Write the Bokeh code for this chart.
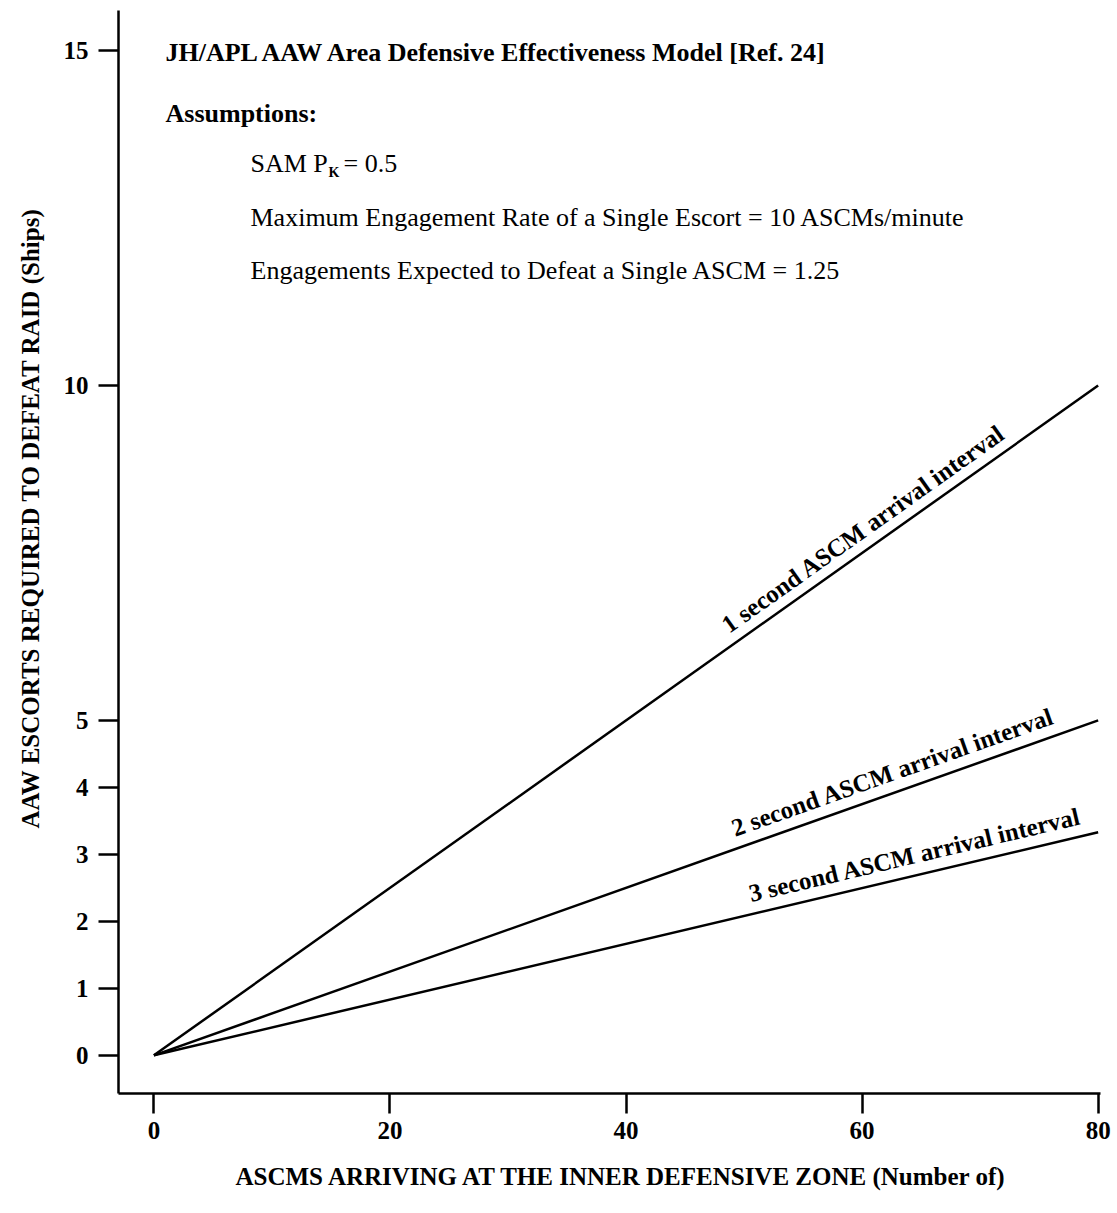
import math
from bokeh.plotting import figure
from bokeh.models import Label, FixedTicker, Range1d, Title
from bokeh.embed import file_html
from bokeh.resources import INLINE

# ASCM raid size and escorts required for each arrival interval
ascms = [0, 80]
escorts_1s = [0, 10]
escorts_2s = [0, 5]
escorts_3s = [0, 3.33]
series_names = [
    "1 second ASCM arrival interval",
    "2 second ASCM arrival interval",
    "3 second ASCM arrival interval",
]
x_ticks = [0, 20, 40, 60, 80]
y_ticks = [0, 1, 2, 3, 4, 5, 10, 15]

title_text = "JH/APL AAW Area Defensive Effectiveness Model [Ref. 24]"
assumption_lines = [
    "Maximum Engagement Rate of a Single Escort = 10 ASCMs/minute",
    "Engagements Expected to Defeat a Single ASCM = 1.25",
]
x_title = "ASCMS ARRIVING AT THE INNER DEFENSIVE ZONE (Number of)"
y_title = "AAW ESCORTS REQUIRED TO DEFEAT RAID (Ships)"

SERIF = "Liberation Serif"
W, H = 1117, 1213
BL, BR, BT, BB = 118, 17, 10, 120
X0, X1 = -3.0, 80.2
Y0, Y1 = -0.57, 15.6

p = figure(width=W, height=H, output_backend="svg", toolbar_location=None,
           x_range=Range1d(X0, X1), y_range=Range1d(Y0, Y1),
           min_border_left=BL, min_border_right=BR,
           min_border_top=BT, min_border_bottom=BB)
p.outline_line_color = None
p.grid.visible = False
p.background_fill_color = "white"
p.border_fill_color = "white"

for ax in (p.xaxis[0], p.yaxis[0]):
    ax.axis_line_width = 2.5
    ax.axis_line_color = "black"
    ax.major_tick_line_width = 2.5
    ax.major_tick_line_color = "black"
    ax.major_tick_out = 20
    ax.major_tick_in = 0
    ax.minor_tick_out = 0
    ax.minor_tick_in = 0
    ax.major_label_text_font = SERIF
    ax.major_label_text_font_size = "25px"
    ax.major_label_text_font_style = "bold"
    ax.major_label_text_color = "black"

p.xaxis.ticker = FixedTicker(ticks=x_ticks)
p.yaxis.ticker = FixedTicker(ticks=y_ticks)
p.xaxis.major_label_standoff = 8
p.yaxis.major_label_standoff = 10

px_per_x = (W - BL - BR) / (X1 - X0)
px_per_y = (H - BT - BB) / (Y1 - Y0)

def data_x(px):
    return X0 + (px - BL) / px_per_x

def data_y(py):
    return Y1 - (py - BT) / px_per_y

# axis titles, placed in the side panels outside the axes
p.add_layout(Title(text=x_title, text_font=SERIF, text_font_size="25px",
                   text_font_style="bold", text_color="black",
                   align="left", offset=117, standoff=38,
                   vertical_align="bottom"), "below")
p.add_layout(Title(text=y_title, text_font=SERIF, text_font_size="25px",
                   text_font_style="bold", text_color="black",
                   align="left", offset=265, standoff=30,
                   vertical_align="top"), "left")

# the three escort lines
for ys in (escorts_1s, escorts_2s, escorts_3s):
    p.line(ascms, ys, line_color="black", line_width=2.5)

# text rotated to follow each line on screen
label_starts = [49.0, 49.4, 50.7]
for name, ys, xs in zip(series_names, (escorts_1s, escorts_2s, escorts_3s), label_starts):
    slope = (ys[1] - ys[0]) / (ascms[1] - ascms[0])
    ang = math.degrees(math.atan(slope * px_per_y / px_per_x))
    p.add_layout(Label(x=xs, y=ys[0] + slope * xs, text=name, angle=ang, angle_units="deg",
                       text_font=SERIF, text_font_size="25px", text_font_style="bold",
                       text_color="black", text_align="left", text_baseline="bottom",
                       y_offset=7))

# model header and assumptions
FS = "26px"
p.add_layout(Label(x=data_x(165), y=data_y(52), text=title_text, text_font=SERIF,
                   text_font_size=FS, text_font_style="bold", text_color="black",
                   text_baseline="middle"))
p.add_layout(Label(x=data_x(165), y=data_y(113), text="Assumptions:", text_font=SERIF,
                   text_font_size=FS, text_font_style="bold", text_color="black",
                   text_baseline="middle"))
p.add_layout(Label(x=data_x(250), y=data_y(163), text="SAM P", text_font=SERIF,
                   text_font_size=FS, text_color="black", text_baseline="middle"))
p.add_layout(Label(x=data_x(328), y=data_y(172), text="K", text_font=SERIF,
                   text_font_size="14px", text_font_style="bold", text_color="black",
                   text_baseline="middle"))
p.add_layout(Label(x=data_x(343), y=data_y(163), text="= 0.5", text_font=SERIF,
                   text_font_size=FS, text_color="black", text_baseline="middle"))
for i, line in enumerate(assumption_lines):
    p.add_layout(Label(x=data_x(250), y=data_y(217 + i * 53), text=line, text_font=SERIF,
                       text_font_size=FS, text_color="black", text_baseline="middle"))

open("out.html", "w").write(file_html(p, INLINE))
